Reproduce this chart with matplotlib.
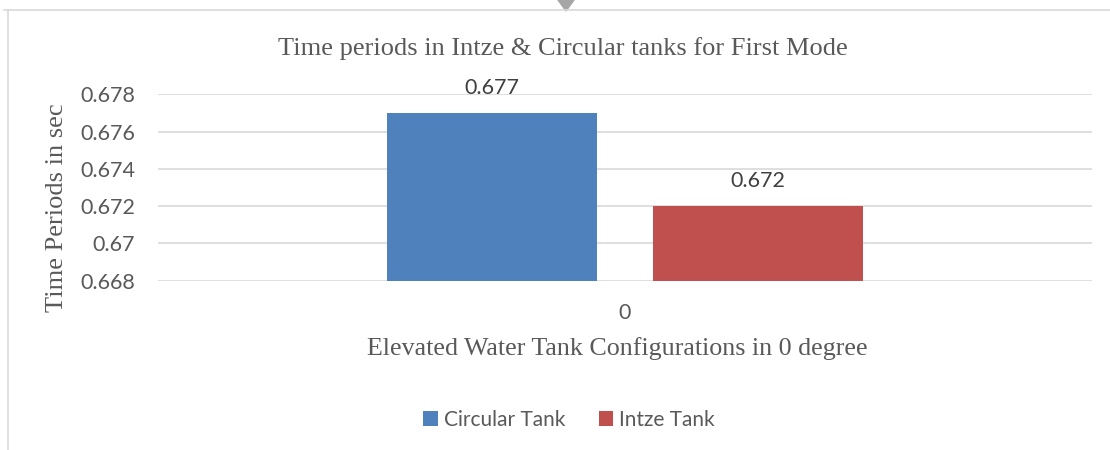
import numpy as np
import matplotlib
matplotlib.use('Agg')
import matplotlib.pyplot as plt
from matplotlib.lines import Line2D
from matplotlib.patches import Polygon

# data
categories = ["0"]
series_names = ["Circular Tank", "Intze Tank"]
circular_vals = [0.677]
intze_vals = [0.672]
y_ticks = [0.668, 0.67, 0.672, 0.674, 0.676, 0.678]
y_tick_labels = ["0.668", "0.67", "0.672", "0.674", "0.676", "0.678"]

colors = ["#4F81BD", "#C0504D"]
txt_col = "#595959"
serif = "Liberation Serif"
sans = "Lato"

fig = plt.figure(figsize=(11.1, 4.5), dpi=100)
ax = fig.add_axes([0.1423, 0.3762, 0.8414, 0.4142])

x = np.arange(len(categories))
w = 0.225
off = 0.1424
b1 = ax.bar(x - off, np.array(circular_vals) - 0.668, w, bottom=0.668, color=colors[0], label=series_names[0], zorder=3)
b2 = ax.bar(x + off, np.array(intze_vals) - 0.668, w, bottom=0.668, color=colors[1], label=series_names[1], zorder=3)

for bars, vals in [(b1, circular_vals), (b2, intze_vals)]:
    for rect, v in zip(bars, vals):
        ax.text(rect.get_x() + rect.get_width() / 2, v + 0.0008, str(v),
                ha="center", va="bottom", fontsize=15.5, color="#404040", family=sans)

ax.set_xlim(-0.5, 0.5)
ax.set_ylim(0.668, 0.678)
ax.set_yticks(y_ticks)
ax.set_yticklabels(y_tick_labels, family=sans, fontsize=15.5, color=txt_col)
ax.set_xticks(x)
ax.set_xticklabels(categories, family=sans, fontsize=15.5, color=txt_col)
ax.tick_params(axis="y", length=0, pad=16.5)
ax.tick_params(axis="x", length=0, pad=16)
ax.grid(axis="y", color="#D9D9D9", linewidth=1.2, zorder=0)
for s in ax.spines.values():
    s.set_visible(False)

ax.set_title("Time periods in Intze & Circular tanks for First Mode",
             family=serif, fontsize=19, color=txt_col, pad=28, x=0.4336)
ax.set_xlabel("Elevated Water Tank Configurations in 0 degree",
              family=serif, fontsize=18.7, color=txt_col, labelpad=10, x=0.4914)
ax.set_ylabel("Time Periods in sec", family=serif, fontsize=19, color=txt_col)
ax.yaxis.set_label_coords(-0.0964, 0.39)

fig.legend(handles=[b1, b2], labels=series_names, loc="center", ncol=2,
           bbox_to_anchor=(569 / 1110, 1 - 420 / 450), frameon=False,
           prop={"family": sans, "size": 15}, labelcolor=txt_col,
           handlelength=0.7, handleheight=0.7, columnspacing=1.6, handletextpad=0.3)

# chart border and the small marker at the top
fig.add_artist(Line2D([0.004, 1.0], [0.978, 0.978], transform=fig.transFigure, color="#D9D9D9", lw=1.2))
fig.add_artist(Line2D([0.0072, 0.0072], [0.0, 0.978], transform=fig.transFigure, color="#D9D9D9", lw=1.2))
fig.add_artist(Polygon([[558 / 1110, 1.0], [574 / 1110, 1.0], [566 / 1110, 1 - 11 / 450]],
                       closed=True, transform=fig.transFigure, color="#A6A6A6"))

fig.savefig("out.png", dpi=100)
